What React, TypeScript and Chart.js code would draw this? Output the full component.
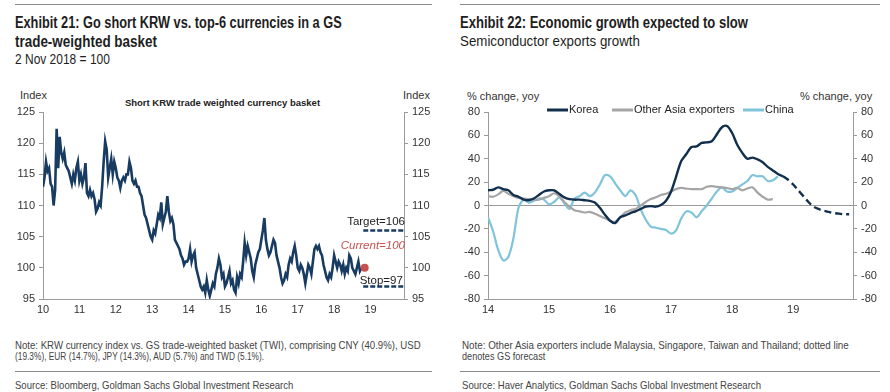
import React, { useEffect, useLayoutEffect, useRef } from "react";
import { Chart, registerables } from "chart.js";

Chart.register(...registerables);

// ---------------- DATA: Exhibit 21 (KRW basket, semi-monthly obs) ----------------
const KRW_START_YEAR = 2010;
const KRW_OBS_PER_YEAR = 24;
const krw2010 = [113, 114.5, 117, 115.5, 116, 113.5, 113, 110, 112.5, 122.3, 116, 121, 118.5, 117.5, 118.5, 116.5, 116, 115.5, 114.5, 113.5, 115, 114, 116, 117];
const krw2011 = [114, 115, 113.5, 114.5, 116.8, 112, 111.5, 112.5, 111.5, 112, 111, 109, 109.5, 110.5, 110, 113, 117, 120.3, 119, 114.5, 116, 117.5, 115, 117];
const krw2012 = [116, 114.5, 114, 112.8, 114, 114.5, 114, 115, 115, 117, 116, 114, 113.5, 114, 113, 113, 112, 111.5, 110, 108.5, 108, 107, 106, 105];
const krw2013 = [104.5, 106, 105.5, 107, 108.5, 108, 110.5, 107, 108, 109, 111.5, 109, 107.5, 108, 107, 104.5, 104, 103.5, 103, 102, 101.5, 100.5, 101, 101];
const krw2014 = [101.5, 103, 101, 102, 102.5, 100, 99, 98, 97, 96.5, 97, 96, 98, 96.5, 95.5, 96.5, 97.5, 97, 99, 100, 101.5, 100.5, 98.5, 99];
const krw2015 = [97, 97.5, 98.5, 99.5, 97.5, 98, 96.5, 96, 98.5, 97.5, 99, 98.5, 101, 104, 102, 103.5, 102.5, 101.5, 99.5, 98.5, 100.5, 101.5, 102.5, 103];
const krw2016 = [104.5, 106, 108, 104.5, 103, 102, 102.5, 103.5, 104.5, 104, 102, 101, 100, 98.5, 97.5, 98, 99, 98.5, 100.5, 101.5, 101, 102.5, 103.5, 102];
const krw2017 = [100, 99.5, 100.5, 100, 99, 97.5, 99, 100.5, 100, 99, 101, 103, 103.5, 103, 103.5, 102.5, 102, 100.5, 99.5, 98.5, 98, 99, 98.5, 100];
const krw2018 = [102, 101, 100, 101, 100.5, 99.5, 100.5, 99, 100, 99.5, 102, 101.5, 100, 99.5, 99, 100, 101, 99.5, 100];
const krwIndex = [...krw2010, ...krw2011, ...krw2012, ...krw2013, ...krw2014, ...krw2015, ...krw2016, ...krw2017, ...krw2018];

const currentDate = 2018.84;
const currentValue = 100;
const targetValue = 106;
const stopValue = 97;
const horizonEnd = 2019.92;
const leftYearTicks = [2010, 2011, 2012, 2013, 2014, 2015, 2016, 2017, 2018, 2019];
const leftYTicks = [95, 100, 105, 110, 115, 120, 125];

// ---------------- DATA: Exhibit 22 (semiconductor exports, monthly, from Jan 2014) ----------------
const SEMI_START_YEAR = 2014;
const korea = [
  13, 13.5, 15.5, 14, 13, 9, 7.5, 5, 4.5, 6, 9, 12,
  13, 13, 10, 7, 5.5, 5, 5, 4.5, 4, 2.5, -2, -8,
  -13, -15, -10, -8.5, -6.5, -5, -3, -1, -0.5, -1, 0.5, 4,
  12, 25, 38, 44, 50, 50.5, 53.5, 54, 55, 61, 67, 68,
  62, 52, 45, 40, 41, 39.5, 37, 33, 30, 27, 25,
];
const KOREA_FORECAST_START = 58; // Nov 2018
const koreaForecast = [25, 22, 18, 13, 8, 3, -1, -3, -4.5, -5.5, -6.5, -7, -7.5, -7.5];
const otherAsia = [
  8, 7.5, 9.5, 12.5, 10, 8, 6.5, 6, 5.5, 5, 5, 6.5,
  8, 10.5, 8, 3, -1, -4, -5, -6, -5.5, -7, -9, -11,
  -13, -14, -10, -6, -4, -3, 0, 3, 5.5, 7, 9, 10,
  12, 14, 15, 14.5, 14, 14, 14, 16, 16.5, 16, 15.5, 15,
  14, 15, 13, 14.5, 15.5, 11, 7.5, 5, 5.5,
];
const china = [
  -10, -22, -38, -47, -44, -28, -2, 5, 2.5, 4, 6, 5,
  1, 3, 7, 2, -3, 6, 8, 11, 8, 11, 18, 26,
  25, 19, 13, 8, 13, 9, -3, -12, -18, -19, -20, -21,
  -24, -21, -11, -5, -6, -10, -5, 0, 6, 12, 15.5, 12,
  12, 15, 18, 21, 26, 25, 25, 21, 21.5, 25,
];
const rightXMax = 2019.98;
const rightYearTicks = [2014, 2015, 2016, 2017, 2018, 2019];
const rightYTicks = [-80, -60, -40, -20, 0, 20, 40, 60, 80];
const legendLabels = ["Korea", "Other Asia exporters", "China"];

// ---------------- STYLE ----------------
const NAVY = "#183b62";
const KOREA_C = "#12304d";
const GREY_C = "#a5a5a5";
const CHINA_C = "#7fc4da";
const RED = "#c8504e";
const AXIS = "#9a9a9a";
const TXT = "#333333";
const SANS = '"Liberation Sans", Arial, Helvetica, sans-serif';

Chart.defaults.font.family = SANS;

const tickFont = { family: SANS, size: 11 };

function yScale(position: "left" | "right", min: number, max: number, ticksVals: number[], width: number, extra: any = {}) {
  return {
    type: "linear",
    position,
    min,
    max,
    afterBuildTicks: (s: any) => {
      s.ticks = ticksVals.map((v) => ({ value: v }));
    },
    ticks: { font: tickFont, color: TXT, padding: 4 },
    grid: { drawOnChartArea: false, drawTicks: true, tickLength: 4, color: AXIS, tickColor: AXIS, ...(extra.grid || {}) },
    border: { display: true, color: AXIS, width: 1 },
    afterFit: (s: any) => {
      s.width = width;
    },
  };
}

function xScale(min: number, max: number, ticksVals: number[]) {
  return {
    type: "linear",
    min,
    max,
    afterBuildTicks: (s: any) => {
      s.ticks = ticksVals.map((v) => ({ value: v }));
    },
    ticks: {
      font: tickFont,
      color: TXT,
      padding: 4,
      maxRotation: 0,
      autoSkip: false,
      callback: (v: any) => String(v).slice(2),
    },
    grid: { drawOnChartArea: false, drawTicks: false, color: AXIS },
    border: { display: true, color: AXIS, width: 1 },
    afterFit: (s: any) => {
      s.height = 21;
    },
  };
}

const leftAnnotations = {
  id: "leftAnnotations",
  afterDraw(chart: any) {
    const { ctx, scales } = chart;
    const xR = scales.x.getPixelForValue(horizonEnd);
    ctx.save();
    ctx.textBaseline = "middle";
    ctx.font = `11.5px ${SANS}`;
    ctx.fillStyle = "#222";
    ctx.textAlign = "right";
    ctx.fillText(`Target=${targetValue}`, xR + 1, scales.y.getPixelForValue(targetValue + 1.4));
    ctx.fillStyle = RED;
    ctx.font = `italic 11.5px ${SANS}`;
    ctx.fillText(`Current=${currentValue}`, xR + 1, scales.y.getPixelForValue(currentValue + 3.6));
    ctx.fillStyle = "#222";
    ctx.font = `11.5px ${SANS}`;
    ctx.textAlign = "left";
    ctx.fillText(`Stop=${stopValue}`, scales.x.getPixelForValue(currentDate) - 5, scales.y.getPixelForValue(stopValue + 0.9));
    ctx.restore();
  },
};

const rightLegend = {
  id: "rightLegend",
  afterDraw(chart: any) {
    const { ctx } = chart;
    const colors = [KOREA_C, GREY_C, CHINA_C];
    const starts = [102, 167, 298];
    ctx.save();
    ctx.font = `11px ${SANS}`;
    ctx.textBaseline = "middle";
    ctx.textAlign = "left";
    const y = 25;
    legendLabels.forEach((lab, i) => {
      ctx.strokeStyle = colors[i];
      ctx.lineWidth = 3;
      ctx.beginPath();
      ctx.moveTo(starts[i], y);
      ctx.lineTo(starts[i] + 21, y);
      ctx.stroke();
      ctx.fillStyle = "#222";
      ctx.fillText(lab, starts[i] + 22, y);
    });
    ctx.restore();
  },
};

function LeftChart() {
  const ref = useRef<HTMLCanvasElement>(null);
  useEffect(() => {
    const pts = krwIndex.map((v, i) => ({ x: KRW_START_YEAR + i / KRW_OBS_PER_YEAR, y: v }));
    const chart = new Chart(ref.current as HTMLCanvasElement, {
      type: "line",
      data: {
        datasets: [
          { data: [{ x: currentDate, y: currentValue }], showLine: false, pointRadius: 4, pointBackgroundColor: RED, pointBorderColor: RED, pointBorderWidth: 0 },
          { data: pts, borderColor: NAVY, borderWidth: 2.6, pointRadius: 0, tension: 0 },
          { data: [{ x: currentDate - 0.04, y: targetValue }, { x: horizonEnd, y: targetValue }], borderColor: NAVY, borderWidth: 2.5, borderDash: [5, 2], pointRadius: 0 },
          { data: [{ x: currentDate - 0.04, y: stopValue }, { x: horizonEnd, y: stopValue }], borderColor: NAVY, borderWidth: 2.5, borderDash: [5, 2], pointRadius: 0 },
        ],
      } as any,
      options: {
        animation: false,
        responsive: false,
        maintainAspectRatio: false,
        layout: { padding: { top: 27, left: 0, right: 0, bottom: 0 } },
        plugins: { legend: { display: false }, tooltip: { enabled: false } },
        scales: {
          x: xScale(KRW_START_YEAR, horizonEnd, leftYearTicks),
          y: yScale("left", 95, 125, leftYTicks, 43),
          y2: yScale("right", 95, 125, leftYTicks, 41),
        } as any,
      },
      plugins: [leftAnnotations],
    });
    return () => chart.destroy();
  }, []);
  return <canvas ref={ref} width={445} height={235} style={{ position: "absolute", left: 0, top: 85, width: 445, height: 235 }} />;
}

function RightChart() {
  const ref = useRef<HTMLCanvasElement>(null);
  useEffect(() => {
    const toPts = (arr: number[], offset = 0) => arr.map((v, i) => ({ x: SEMI_START_YEAR + (i + offset) / 12, y: v }));
    const chart = new Chart(ref.current as HTMLCanvasElement, {
      type: "line",
      data: {
        datasets: [
          { label: legendLabels[0], data: toPts(korea), borderColor: KOREA_C, borderWidth: 2.4, pointRadius: 0, tension: 0.3 },
          { data: toPts(koreaForecast, KOREA_FORECAST_START), borderColor: KOREA_C, borderWidth: 2.4, borderDash: [7, 4], pointRadius: 0, tension: 0.3 },
          { label: legendLabels[1], data: toPts(otherAsia), borderColor: GREY_C, borderWidth: 2.2, pointRadius: 0, tension: 0.3 },
          { label: legendLabels[2], data: toPts(china), borderColor: CHINA_C, borderWidth: 2.2, pointRadius: 0, tension: 0.3 },
        ],
      } as any,
      options: {
        animation: false,
        responsive: false,
        maintainAspectRatio: false,
        layout: { padding: { top: 27, left: 0, right: 0, bottom: 0 } },
        plugins: { legend: { display: false }, tooltip: { enabled: false } },
        scales: {
          x: xScale(SEMI_START_YEAR, rightXMax, rightYearTicks),
          y: yScale("left", -80, 80, rightYTicks, 43, {
            grid: {
              drawOnChartArea: true,
              color: (c: any) => (c.tick && c.tick.value === 0 ? AXIS : "rgba(0,0,0,0)"),
              tickColor: AXIS,
            },
          }),
          y2: yScale("right", -80, 80, rightYTicks, 37),
        } as any,
      },
      plugins: [rightLegend],
    });
    return () => chart.destroy();
  }, []);
  return <canvas ref={ref} width={445} height={235} style={{ position: "absolute", left: 445, top: 85, width: 445, height: 235 }} />;
}

// Text squeezed horizontally to the condensed width of the original typeface
function FitText(props: { x: number; y: number; lh: number; w?: number; style?: React.CSSProperties; children: React.ReactNode }) {
  const ref = useRef<HTMLDivElement>(null);
  useLayoutEffect(() => {
    const el = ref.current;
    if (!el || !props.w) return;
    el.style.transform = "none";
    const natural = el.offsetWidth;
    if (natural > 0) el.style.transform = `scaleX(${props.w / natural})`;
  }, [props.w]);
  return (
    <div
      ref={ref}
      style={{
        position: "absolute",
        left: props.x,
        top: props.y - props.lh / 2,
        lineHeight: `${props.lh}px`,
        whiteSpace: "nowrap",
        color: "#222",
        transformOrigin: "left center",
        ...props.style,
      }}
    >
      {props.children}
    </div>
  );
}

function Rule(props: { x1: number; x2: number; y: number }) {
  return <div style={{ position: "absolute", left: props.x1, top: props.y, width: props.x2 - props.x1, height: 1, background: "#8c8c8c" }} />;
}

export default function App() {
  const titleStyle: React.CSSProperties = { fontFamily: SANS, fontWeight: 700, fontSize: 16, color: "#1e1e1e" };
  const subStyle: React.CSSProperties = { fontFamily: SANS, fontSize: 14.5, color: "#1e1e1e" };
  const noteStyle: React.CSSProperties = { fontFamily: SANS, fontSize: 11, color: "#444" };
  const axStyle: React.CSSProperties = { fontFamily: SANS, fontSize: 11, color: TXT };
  return (
    <div style={{ position: "absolute", left: 0, top: 0, width: 890, height: 392, background: "#fff", overflow: "hidden" }}>
      <Rule x1={15} x2={432} y={4} />
      <Rule x1={460} x2={880} y={4} />
      <FitText x={15} y={22} lh={19} w={327} style={titleStyle}>Exhibit 21: Go short KRW vs. top-6 currencies in a GS</FitText>
      <FitText x={15} y={41} lh={19} w={142} style={titleStyle}>trade-weighted basket</FitText>
      <FitText x={15} y={59} lh={17} w={95} style={subStyle}>2 Nov 2018 = 100</FitText>
      <FitText x={460} y={22} lh={19} w={288} style={titleStyle}>Exhibit 22: Economic growth expected to slow</FitText>
      <FitText x={460} y={41} lh={17} w={180} style={subStyle}>Semiconductor exports growth</FitText>

      <FitText x={20} y={95} lh={13} style={axStyle}>Index</FitText>
      <FitText x={403} y={95} lh={13} style={axStyle}>Index</FitText>
      <div style={{ position: "absolute", left: 0, width: 445, top: 97, lineHeight: "12px", textAlign: "center", fontFamily: SANS, fontWeight: 700, fontSize: 9.5, color: "#222" }}>
        Short KRW trade weighted currency basket
      </div>
      <FitText x={467} y={96} lh={13} style={axStyle}>% change, yoy</FitText>
      <FitText x={800} y={96} lh={13} style={axStyle}>% change, yoy</FitText>

      <LeftChart />
      <RightChart />

      <FitText x={15} y={345} lh={11} w={406} style={noteStyle}>Note: KRW currency index vs. GS trade-weighted basket (TWI), comprising CNY (40.9%), USD</FitText>
      <FitText x={15} y={356} lh={11} w={249} style={noteStyle}>(19.3%), EUR (14.7%), JPY (14.3%), AUD (5.7%) and TWD (5.1%).</FitText>
      <Rule x1={15} x2={432} y={371} />
      <FitText x={15} y={385} lh={12} w={278} style={noteStyle}>Source: Bloomberg, Goldman Sachs Global Investment Research</FitText>

      <FitText x={462} y={345} lh={11} w={387} style={noteStyle}>Note: Other Asia exporters include Malaysia, Singapore, Taiwan and Thailand; dotted line</FitText>
      <FitText x={462} y={356} lh={11} w={83} style={noteStyle}>denotes GS forecast</FitText>
      <Rule x1={460} x2={880} y={371} />
      <FitText x={462} y={385} lh={12} w={299} style={noteStyle}>Source: Haver Analytics, Goldman Sachs Global Investment Research</FitText>
    </div>
  );
}
